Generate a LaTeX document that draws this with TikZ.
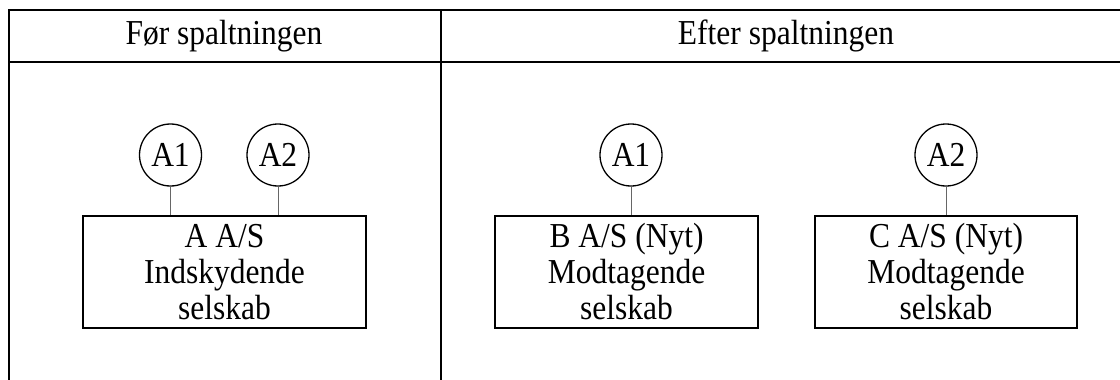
\documentclass[tikz,border=0pt]{standalone}
\usepackage{fontspec}
\setmainfont{Liberation Serif}[FakeStretch=0.9]
\usetikzlibrary{positioning}

\begin{document}
\begin{tikzpicture}[
	x=1pt, y=-1pt,
	font=\fontsize{35}{36}\selectfont,
	frame/.style={
	draw=black,           % black rule
	line width=2pt        % table rule thickness
	},
	company/.style={
	draw=black,           % black border
	line width=1.3pt,     % border thickness
	rectangle,            % shape
	align=center,         % centred lines
	minimum height=112pt, % box height
	inner sep=0pt         % padding
	},
	owner/.style={
	draw=black,           % black border
	line width=1.3pt,     % border thickness
	circle,               % shape
	minimum size=62pt,    % diameter
	inner sep=0pt         % padding
	},
	link/.style={
	draw=black!60,        % grey line
	line width=1pt        % thin
	}
	]
	\useasboundingbox (0,0) rectangle (1120,380);

	% table
	\draw[frame] (1120,10) -- (9,10) -- (9,380);
	\draw[frame] (9,62) -- (1120,62);
	\draw[frame] (441,10) -- (441,380);
	\node[anchor=base] (before) at (224,45) {Før spaltningen};
	\node[anchor=base] (after) at (786,45) {Efter spaltningen};

	% before
	\node[company, minimum width=283pt] (aBox) at (224.5,272) {A A/S\\Indskydende\\selskab};
	\node[owner] (aA1) at (170.5,155) {A1};
	\node[owner] (aA2) at (278,155) {A2};
	\draw[link] (aA1.south) -- (aA1 |- aBox.north);
	\draw[link] (aA2.south) -- (aA2 |- aBox.north);

	% after
	\node[company, minimum width=263pt] (bBox) at (626.5,272) {B A/S (Nyt)\\Modtagende\\selskab};
	\node[company, minimum width=262pt] (cBox) at (946,272) {C A/S (Nyt)\\Modtagende\\selskab};
	\node[owner] (bA1) at (631,155) {A1};
	\node[owner] (cA2) at (946,155) {A2};
	\draw[link] (bA1.south) -- (bA1 |- bBox.north);
	\draw[link] (cA2.south) -- (cA2 |- cBox.north);
\end{tikzpicture}
\end{document}
